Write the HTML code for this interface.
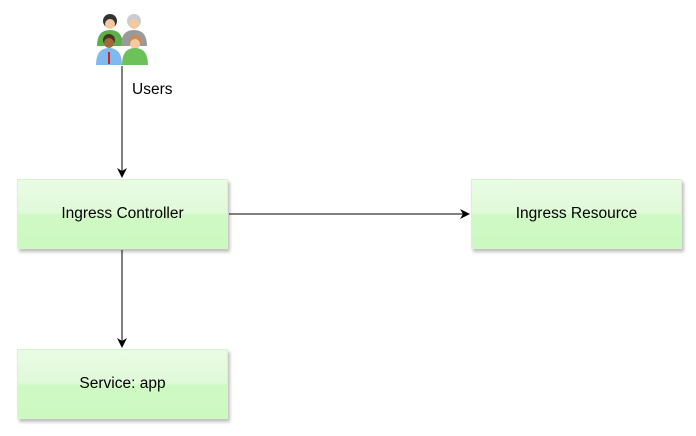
<!DOCTYPE html>
<html><head><style>
html,body{margin:0;padding:0;background:#fff;width:696px;height:436px;overflow:hidden;font-family:"Liberation Sans",sans-serif;}
.b{position:absolute;width:211px;height:70px;border:1px solid #d3f5c9;box-sizing:border-box;
background:linear-gradient(#e9fbe4 0%,#e0fad9 48%,#cff9c4 52%,#ccf9c0 100%);
box-shadow:2px 3px 3px rgba(0,0,0,0.25);display:flex;align-items:center;justify-content:center;font-size:15.5px;color:#000;}
</style></head><body>
<svg width="696" height="436" style="position:absolute;left:0;top:0">
<defs><marker id="a" markerWidth="10" markerHeight="10" refX="9" refY="5" orient="auto" markerUnits="userSpaceOnUse"><path d="M0,0 L10,5 L0,10 L3,5z" fill="#000"/></marker></defs>
<line x1="122" y1="66" x2="122" y2="177" stroke="#000" marker-end="url(#a)"/>
<line x1="229" y1="214" x2="469" y2="214" stroke="#000" marker-end="url(#a)"/>
<line x1="122" y1="250" x2="122" y2="347" stroke="#000" marker-end="url(#a)"/>
<g>
<path d="M97,46 q0,-16 13,-16 q13,0 13,16z" fill="#5cb04a"/>
<circle cx="110" cy="21" r="7" fill="#333"/><circle cx="110" cy="24" r="5" fill="#f5c9a0"/>
<path d="M121,46 q0,-16 13,-16 q13,0 13,16z" fill="#9a9a9a"/>
<circle cx="134" cy="21" r="7" fill="#ccc"/><circle cx="134" cy="24" r="5" fill="#f5c9a0"/>
<circle cx="109" cy="40" r="6" fill="#4a3220"/><circle cx="109" cy="43" r="5" fill="#a06a40"/><path d="M96,65 q0,-17 13,-17 q13,0 13,17z" fill="#7fb9ee"/><rect x="108" y="52" width="2" height="12" fill="#c22"/>
<circle cx="135" cy="41" r="6" fill="#c78c58"/><circle cx="135" cy="44" r="5" fill="#f5c9a0"/><path d="M122,65 q0,-17 13,-17 q13,0 13,17z" fill="#6cc15a"/>
</g>
<text x="132" y="94" font-family="Liberation Sans, sans-serif" font-size="15.5">Users</text>
</svg>
<div class="b" style="left:17px;top:179px">Ingress Controller</div>
<div class="b" style="left:471px;top:179px">Ingress Resource</div>
<div class="b" style="left:17px;top:349px">Service: app</div>
</body></html>
